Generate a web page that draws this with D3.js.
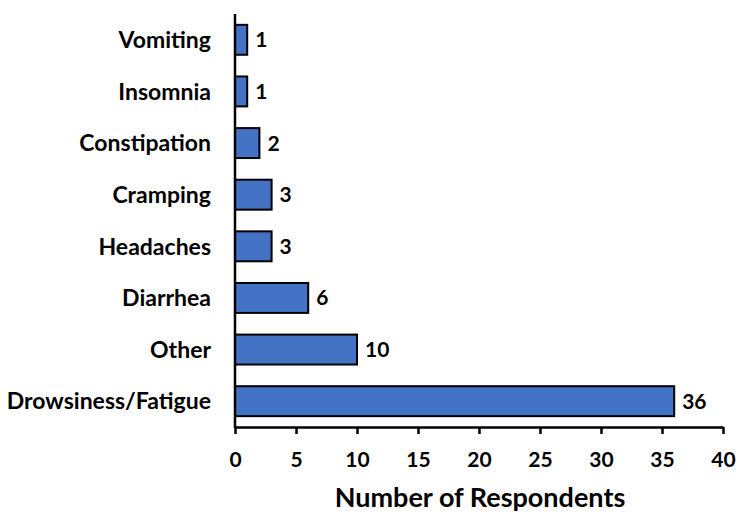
<!DOCTYPE html>
<html><head><meta charset="utf-8">
<script src="https://cdn.jsdelivr.net/npm/d3@7"></script>
<style>body{margin:0;background:#fff}svg{display:block}text{font-family:Lato,"Open Sans",sans-serif;font-weight:bold;fill:#000}</style>
</head><body>
<svg id="c" width="750" height="529"></svg>
<script>
const categories = ["Vomiting","Insomnia","Constipation","Cramping","Headaches","Diarrhea","Other","Drowsiness/Fatigue"];
const values = [1,1,2,3,3,6,10,36];
const xTicks = [0,5,10,15,20,25,30,35,40];
const xTitle = "Number of Respondents";

const svg = d3.select("#c");
const x = d3.scaleLinear().domain([0,40]).range([235,723]);
const y = d3.scaleBand().domain(categories).range([14,427]).paddingInner(0.42).paddingOuter(0.21);

svg.selectAll("rect.bar").data(categories).join("rect")
  .attr("class","bar")
  .attr("x", x(0)).attr("y", d=>y(d))
  .attr("width", (d,i)=>x(values[i])-x(0)).attr("height", y.bandwidth())
  .attr("fill","#4472C4").attr("stroke","#000").attr("stroke-width",2);

svg.selectAll("text.val").data(categories).join("text")
  .attr("class","val")
  .attr("x",(d,i)=>x(values[i])+8).attr("y",d=>y(d)+y.bandwidth()/2)
  .attr("dy","0.36em").attr("font-size",21).text((d,i)=>values[i]);

svg.selectAll("text.cat").data(categories).join("text")
  .attr("class","cat")
  .attr("x",211).attr("y",d=>y(d)+y.bandwidth()/2)
  .attr("dy","0.36em").attr("text-anchor","end").attr("font-size",23).text(d=>d);

// y axis line
svg.append("line").attr("x1",x(0)).attr("x2",x(0)).attr("y1",14).attr("y2",428)
  .attr("stroke","#000").attr("stroke-width",2.5);

const xa = svg.append("g").attr("transform","translate(0,427)")
  .call(d3.axisBottom(x).tickValues(xTicks).tickSize(7).tickSizeOuter(0).tickPadding(18));
xa.select(".domain").attr("stroke","#000").attr("stroke-width",2.5);
xa.selectAll(".tick line").attr("stroke","#000").attr("stroke-width",2.5);
xa.selectAll(".tick text").attr("font-size",21).attr("font-family","Lato,sans-serif").attr("font-weight","bold").attr("fill","#000");

svg.append("text").attr("x",480).attr("y",507).attr("text-anchor","middle")
  .attr("font-size",27).text(xTitle);
</script>
</body></html>
